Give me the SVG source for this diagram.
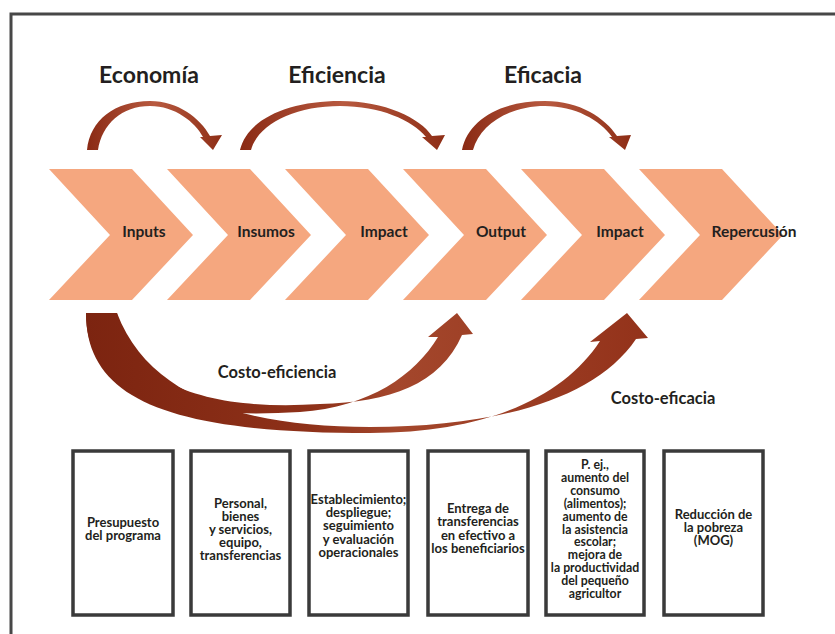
<svg xmlns="http://www.w3.org/2000/svg" width="835" height="634" viewBox="0 0 835 634">
<style>
.chev{fill:#F5A77F}
.lbl{font-family:Lato,"Open Sans","Liberation Sans",sans-serif;font-weight:bold;fill:#231F20;text-anchor:middle}
.top{font-size:23px}
.cl{font-size:15.5px}
.cost{font-size:16.5px}
.bx{fill:#fff;stroke:#3a3a3a;stroke-width:3.5}
.bt{font-size:13px}
.bs{font-size:12.3px}
</style>
<defs>
<linearGradient id="gTop" x1="0" y1="0" x2="1" y2="0">
<stop offset="0" stop-color="#8A2A14"/>
<stop offset="0.5" stop-color="#B85A40"/>
<stop offset="1" stop-color="#8E2E16"/>
</linearGradient>
<linearGradient id="gBot" gradientUnits="userSpaceOnUse" x1="86" y1="0" x2="650" y2="0">
<stop offset="0" stop-color="#7C2410"/>
<stop offset="0.4" stop-color="#8E3119"/>
<stop offset="0.55" stop-color="#A4472C"/>
<stop offset="1" stop-color="#93321A"/>
</linearGradient>
</defs>
<rect width="835" height="634" fill="#fff"/>
<path d="M11 634 V14 H835" fill="none" stroke="#474747" stroke-width="3"/>

<g id="chevrons">
<g id="n-inputs"><polygon class="chev" points="49,169 132,169 193,235 132,300 49,300 110,235"/><text class="lbl cl" x="144" y="237">Inputs</text></g>
<g id="n-insumos"><polygon class="chev" points="167,169 250,169 311,235 250,300 167,300 228,235"/><text class="lbl cl" x="266" y="237">Insumos</text></g>
<g id="n-impact1"><polygon class="chev" points="285,169 368,169 429,235 368,300 285,300 346,235"/><text class="lbl cl" x="384" y="237">Impact</text></g>
<g id="n-output"><polygon class="chev" points="403,169 486,169 547,235 486,300 403,300 464,235"/><text class="lbl cl" x="501" y="237">Output</text></g>
<g id="n-impact2"><polygon class="chev" points="521,169 604,169 665,235 604,300 521,300 582,235"/><text class="lbl cl" x="620" y="237">Impact</text></g>
<g id="n-repercusion"><polygon class="chev" points="639,169 722,169 783,235 722,300 639,300 700,235"/><text class="lbl cl" x="754" y="237">Repercusión</text></g>
</g>

<g id="connectors">
<path fill="url(#gTop)" d="M87 150 C90 120 115 101 150 101 C178 101 200 118 210 136 L222 135 L213 150 L200 137 L203 137 C195 122 175 106 150 106 C122 106 102 124 98 150 Z"/>
<path fill="url(#gTop)" d="M240 150 C248 118 290 101 340 101 C385 101 420 118 432 136 L445 135 L437 150 L422 137 L426 137 C412 120 380 106 340 106 C295 106 258 124 251 150 Z"/>
<path fill="url(#gTop)" d="M462 150 C468 120 500 101 545 101 C580 101 605 118 617 136 L631 135 L625 150 L609 137 L612 137 C600 120 575 106 545 106 C510 106 480 124 473 150 Z"/>
<path fill="url(#gBot)" d="M86 313 C86 400 170 433 370 433 C490 433 565 395 600 341 L590 342 L627 313 L648 338 L636 339 C595 400 495 427 370 427 C250 427 150 400 117 313 Z"/>
<path fill="url(#gBot)" d="M86 313 C86 395 170 420 300 412 C370 407 415 375 438 337 L428 337 L457 313 L473 334 L462 335 C440 385 390 402 320 404 C230 410 130 395 117 313 Z"/>
<text class="lbl top" x="149" y="83">Economía</text>
<text class="lbl top" x="337" y="83">Eficiencia</text>
<text class="lbl top" x="543" y="83">Eficacia</text>
<text class="lbl cost" x="277" y="378">Costo-eficiencia</text>
<text class="lbl cost" x="663" y="404">Costo-eficacia</text>
</g>

<g id="boxes">
<g id="b1"><rect class="bx" x="73" y="451" width="100" height="164"/><text class="lbl bt" x="123" y="527">Presupuesto<tspan x="123" dy="13">del programa</tspan></text></g>
<g id="b2"><rect class="bx" x="191" y="451" width="99" height="164"/><text class="lbl bt" x="240.5" y="508">Personal,<tspan x="240.5" dy="13">bienes</tspan><tspan x="240.5" dy="13">y servicios,</tspan><tspan x="240.5" dy="13">equipo,</tspan><tspan x="240.5" dy="13">transferencias</tspan></text></g>
<g id="b3"><rect class="bx" x="309" y="451" width="99" height="164"/><text class="lbl bt" x="358.5" y="504">Establecimiento;<tspan x="358.5" dy="13.2">despliegue;</tspan><tspan x="358.5" dy="13.2">seguimiento</tspan><tspan x="358.5" dy="13.2">y evaluación</tspan><tspan x="358.5" dy="13.2">operacionales</tspan></text></g>
<g id="b4"><rect class="bx" x="428" y="451" width="100" height="164"/><text class="lbl bt" x="478" y="513">Entrega de<tspan x="478" dy="13.3">transferencias</tspan><tspan x="478" dy="13.3">en efectivo a</tspan><tspan x="478" dy="13.3">los beneficiarios</tspan></text></g>
<g id="b5"><rect class="bx" x="546" y="451" width="98" height="164"/><text class="lbl bs" x="595" y="469">P. ej.,<tspan x="595" dy="12.9">aumento del</tspan><tspan x="595" dy="12.9">consumo</tspan><tspan x="595" dy="12.9">(alimentos);</tspan><tspan x="595" dy="12.9">aumento de</tspan><tspan x="595" dy="12.9">la asistencia</tspan><tspan x="595" dy="12.9">escolar;</tspan><tspan x="595" dy="12.9">mejora de</tspan><tspan x="595" dy="12.9">la productividad</tspan><tspan x="595" dy="12.9">del pequeño</tspan><tspan x="595" dy="12.9">agricultor</tspan></text></g>
<g id="b6"><rect class="bx" x="664" y="451" width="99" height="164"/><text class="lbl bt" x="713.5" y="519">Reducción de<tspan x="713.5" dy="13">la pobreza</tspan><tspan x="713.5" dy="13">(MOG)</tspan></text></g>
</g>
</svg>
